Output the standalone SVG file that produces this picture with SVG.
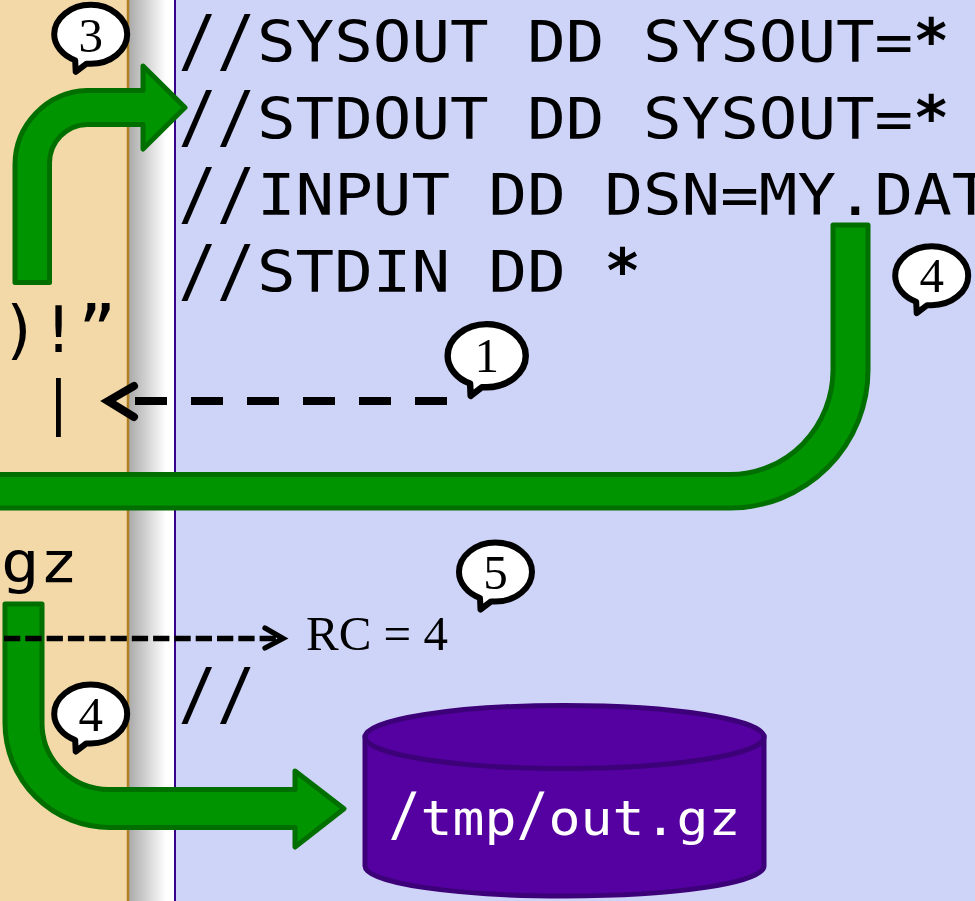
<svg xmlns="http://www.w3.org/2000/svg" width="975" height="901" viewBox="0 0 975 901">
<style>
.code{font-family:"DejaVu Sans Mono",monospace;font-size:57px;fill:#000}
.sl{font-size:70px}
.st{font-size:60px;font-weight:bold}
.plain{font-family:"DejaVu Sans Mono",monospace;font-size:64px;fill:#000}
.out{font-family:"DejaVu Sans Mono",monospace;font-size:47.300px;fill:#fff}
.osl{font-size:58px}
.serif{font-family:"Liberation Serif",serif;fill:#000}
.num{font-size:49px;text-anchor:middle}
.pipe{fill:#009500;stroke:#006f00;stroke-width:5;stroke-linejoin:round}
.bub{fill:#fff;stroke:#000;stroke-width:6;stroke-linejoin:round}
.chev{fill:none;stroke:#000;stroke-linecap:round;stroke-linejoin:miter}
.cyl{fill:#5500a0;stroke:#3c0078;stroke-width:5}
</style>
<defs>
<linearGradient id="shade" x1="0" x2="1" y1="0" y2="0"><stop offset="0" stop-color="#a8a8a8"/><stop offset="1" stop-color="#fff"/></linearGradient>
<path id="bubble" class="bub" d="M-15.500 26C-28 21.500-36.500 11-36.500 0C-36.500-16-20-29.500 0-29.500C20-29.500 36.500-16 36.500 0C36.500 16 20 29.500 0 29.500C-2 29.500-3 29.500-4.500 29.500L-15 37.500Z"/>
</defs>
<g id="background">
<rect x="0" y="0" width="128" height="901" fill="#f3d9a8"/>
<rect x="128" y="0" width="38" height="901" fill="url(#shade)"/>
<rect x="166" y="0" width="8" height="901" fill="#fff"/>
<rect x="175" y="0" width="800" height="901" fill="#ced4f8"/>
<line x1="128" y1="0" x2="128" y2="901" stroke="#b08020" stroke-width="2.500"/>
<line x1="175" y1="0" x2="175" y2="901" stroke="#380088" stroke-width="2"/>
</g>
<g id="code">
<text class="code" x="178.200" y="62"><tspan class="sl" dy="2.500" textLength="77.200" lengthAdjust="spacingAndGlyphs">//</tspan><tspan dx="1.600" dy="-2.500" textLength="656.200" lengthAdjust="spacingAndGlyphs">SYSOUT DD SYSOUT=</tspan><tspan class="st">*</tspan></text>
<text class="code" x="178.200" y="138.600"><tspan class="sl" dy="2.500" textLength="77.200" lengthAdjust="spacingAndGlyphs">//</tspan><tspan dx="1.600" dy="-2.500" textLength="656.200" lengthAdjust="spacingAndGlyphs">STDOUT DD SYSOUT=</tspan><tspan class="st">*</tspan></text>
<text class="code" x="178.200" y="215.400"><tspan class="sl" dy="2.500" textLength="77.200" lengthAdjust="spacingAndGlyphs">//</tspan><tspan dx="1.600" dy="-2.500" textLength="733.400" lengthAdjust="spacingAndGlyphs">INPUT DD DSN=MY.DAT</tspan></text>
<text class="code" x="178.200" y="292"><tspan class="sl" dy="2.500" textLength="77.200" lengthAdjust="spacingAndGlyphs">//</tspan><tspan dx="1.600" dy="-2.500" textLength="347.400" lengthAdjust="spacingAndGlyphs">STDIN DD </tspan><tspan class="st">*</tspan></text>
<text class="plain" x="0.700" y="352">)!”</text>
<text class="plain" x="41" y="423" style="font-size:58px">|</text>
<text class="code" x="1" y="582" textLength="77.200" lengthAdjust="spacingAndGlyphs">gz</text>
<text class="code" x="178.200" y="717.500"><tspan class="sl" textLength="77.200" lengthAdjust="spacingAndGlyphs">//</tspan></text>
</g>
<g id="connectors">
<path id="flow-3" class="pipe" d="M15 282.500V165A74.500 74.500 0 0 1 87 90.500H143V66L185 107.500L143 149V124.500H87A38.500 38.500 0 0 0 49.500 163V282.500Z"/>
<path id="flow-4-top" class="pipe" d="M833 225H868V370A138 138 0 0 1 730 508H-10V474.500H730A103 104.500 0 0 0 833 370Z"/>
<path id="flow-4-bottom" class="pipe" d="M5 604H42V723A67 66.500 0 0 0 110 789.500H295V771L344 808.700L295 847V827.500H110A105 104.500 0 0 1 5 723Z"/>
<line x1="447" y1="401" x2="135" y2="401" stroke="#000" stroke-width="8" stroke-dasharray="32 24"/>
<path class="chev" stroke-width="8" d="M134 386L108 401L134 417"/>
<line x1="4" y1="638.500" x2="280" y2="638.500" stroke="#000" stroke-width="5.300" stroke-dasharray="16.300 5"/>
<path class="chev" stroke-width="5.300" d="M265 628L283 638.500L265 648"/>
</g>
<text id="rc" class="serif" x="306" y="650" font-size="49">RC = 4</text>
<g id="dataset">
<path class="cyl" d="M365 737V866C365 883 454 896 564.500 896C675 896 764 883 764 866V737Z"/>
<ellipse class="cyl" cx="564.500" cy="737" rx="199.500" ry="31.500"/>
<text class="out" x="388.500" y="835"><tspan class="osl" textLength="32" lengthAdjust="spacingAndGlyphs">/</tspan><tspan textLength="96" lengthAdjust="spacingAndGlyphs">tmp</tspan><tspan class="osl" textLength="32" lengthAdjust="spacingAndGlyphs">/</tspan><tspan textLength="192" lengthAdjust="spacingAndGlyphs">out.gz</tspan></text>
</g>
<g id="callout-3"><use href="#bubble" x="90.700" y="34.300"/><text class="serif num" x="90.700" y="51.500">3</text></g>
<g id="callout-1"><use href="#bubble" transform="translate(486.700 355.700) scale(1.070)"/><text class="serif num" x="486.700" y="372">1</text></g>
<g id="callout-4-top"><use href="#bubble" x="931.700" y="275.700"/><text class="serif num" x="931.700" y="292">4</text></g>
<g id="callout-5"><use href="#bubble" x="495.500" y="572"/><text class="serif num" x="495.500" y="588.500">5</text></g>
<g id="callout-4-bottom"><use href="#bubble" x="90.700" y="714"/><text class="serif num" x="90.700" y="731">4</text></g>
</svg>
